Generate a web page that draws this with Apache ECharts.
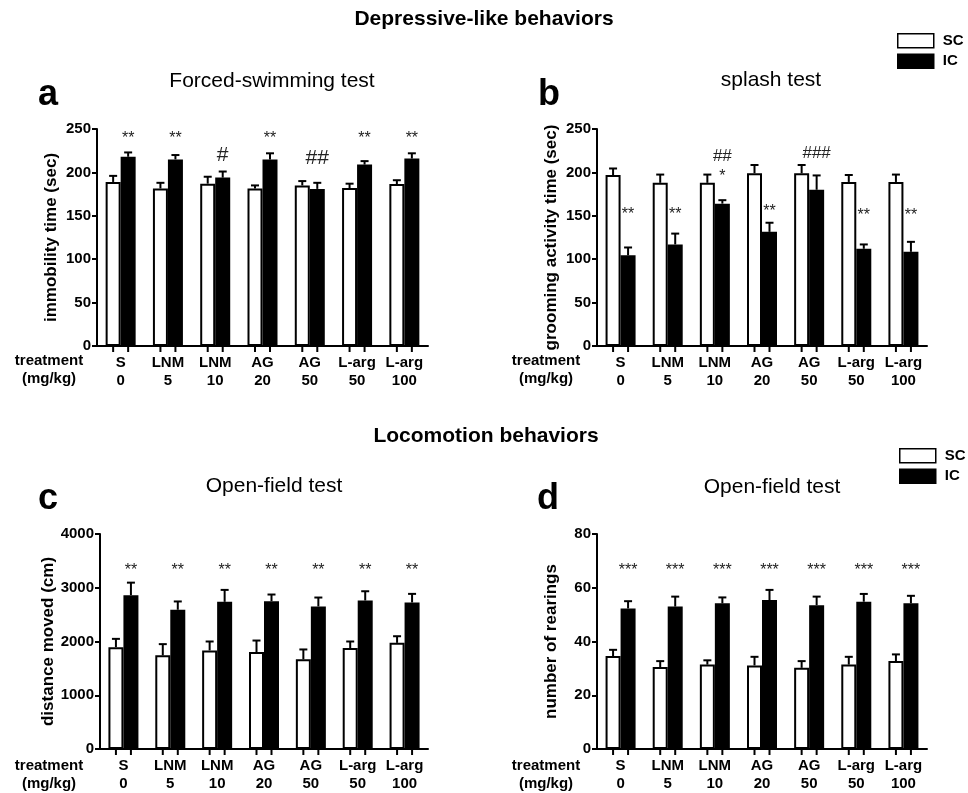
<!DOCTYPE html>
<html>
<head>
<meta charset="utf-8">
<script src="https://cdn.jsdelivr.net/npm/echarts@6/dist/echarts.min.js"></script>
<style>
  html, body { margin: 0; padding: 0; background: #fff; }
  #main { width: 968px; height: 793px; }
</style>
</head>
<body>
<div id="main"></div>
<script>
var categories = ['S\n0', 'LNM\n5', 'LNM\n10', 'AG\n20', 'AG\n50', 'L-arg\n50', 'L-arg\n100'];

// a: forced-swimming test, immobility time (sec)
var immobSC = [189, 181.5, 187, 181.5, 185, 182, 186.5];
var immobSCErr = [7, 6.5, 8, 3.5, 5, 5, 4.5];
var immobIC = [218, 215, 194, 215, 181, 209, 216];
var immobICErr = [5, 5, 7, 7, 7, 4, 6];
var immobMarks = [[0, 244, '**'], [1, 244, '**'], [2, 220, '#'], [3, 244, '**'], [4, 216, '##'], [5, 243, '**'], [6, 244, '**']];

// b: splash test, grooming activity time (sec)
var groomSC = [197, 188, 188, 199, 199, 189, 189];
var groomSCErr = [7.5, 9.5, 9.5, 9.5, 9.5, 8, 8.5];
var groomIC = [104.5, 117, 164, 131.5, 180, 112, 108.5];
var groomICErr = [9, 12.5, 4, 10.5, 16.5, 5, 11.5];
var groomMarks = [[0, 156, '**'], [1, 156, '**'], [2, 218, '##'], [2, 200, '*'], [3, 159, '**'], [4, 222, '###'], [5, 155, '**'], [6, 155, '**']];

// c: open-field, distance moved (cm)
var distSC = [1895, 1742, 1834, 1803, 1668, 1877, 1975];
var distSCErr = [154, 209, 166, 215, 184, 123, 123];
var distIC = [2862, 2591, 2738, 2751, 2652, 2763, 2726];
var distICErr = [233, 154, 222, 123, 166, 172, 160];
var distMarks = [[0, 3400, '**'], [1, 3400, '**'], [2, 3400, '**'], [3, 3400, '**'], [4, 3400, '**'], [5, 3400, '**'], [6, 3400, '**']];

// d: open-field, number of rearings
var rearSC = [34.6, 30.5, 31.4, 31.1, 30.2, 31.4, 32.7];
var rearSCErr = [2.3, 2.2, 1.6, 3.2, 2.5, 2.9, 2.5];
var rearIC = [52.3, 53, 54.2, 55.4, 53.5, 54.8, 54.2];
var rearICErr = [2.7, 3.7, 2.2, 3.8, 3.2, 2.9, 2.8];
var rearMarks = [[0, 68, '***'], [1, 68, '***'], [2, 68, '***'], [3, 68, '***'], [4, 68, '***'], [5, 68, '***'], [6, 68, '***']];

var FONT = '"Liberation Sans", Arial, sans-serif';
var BAR_W = 15;

var chart = echarts.init(document.getElementById('main'));

function errBar(side) {
  return function (params, api) {
    var ci = api.value(0), m = api.value(1), e = api.value(2);
    var p0 = api.coord([ci, m]);
    var p1 = api.coord([ci, m + e]);
    var z = api.coord([ci, 0]);
    var x = p0[0] + side * BAR_W / 2;
    var st = { stroke: '#000', lineWidth: 2 };
    return {
      type: 'group',
      children: [
        { type: 'line', shape: { x1: x, y1: p0[1], x2: x, y2: p1[1] }, style: st },
        { type: 'line', shape: { x1: x - 4, y1: p1[1], x2: x + 4, y2: p1[1] }, style: st },
        { type: 'line', shape: { x1: x, y1: z[1], x2: x, y2: z[1] + 6 }, style: st }
      ]
    };
  };
}

function markItem(marks, hashSize, starSize) {
  return function (params, api) {
    var mk = marks[params.dataIndex];
    var p = api.coord([mk[0], mk[1]]);
    var isHash = mk[2].indexOf('#') >= 0;
    return {
      type: 'text',
      x: p[0] + BAR_W / 2,
      y: p[1] + (isHash ? 0 : 4),
      style: {
        text: mk[2],
        font: (isHash ? hashSize : starSize) + 'px ' + FONT,
        textAlign: 'center',
        textVerticalAlign: 'middle',
        fill: '#222'
      }
    };
  };
}

function panelSeries(k, sc, scErr, ic, icErr, marks, hashSize, starSize) {
  var zip = function (v, e) { return v.map(function (x, i) { return [i, x, e[i]]; }); };
  return [
    { name: 'SC', type: 'bar', xAxisIndex: k, yAxisIndex: k, data: sc, barWidth: BAR_W, barGap: '0%',
      itemStyle: { color: '#fff', borderColor: '#000', borderWidth: 2 } },
    { name: 'IC', type: 'bar', xAxisIndex: k, yAxisIndex: k, data: ic, barWidth: BAR_W, barGap: '0%',
      itemStyle: { color: '#000', borderColor: '#000', borderWidth: 2 } },
    { type: 'custom', xAxisIndex: k, yAxisIndex: k, data: zip(sc, scErr), renderItem: errBar(-1), z: 5 },
    { type: 'custom', xAxisIndex: k, yAxisIndex: k, data: zip(ic, icErr), renderItem: errBar(1), z: 5 },
    { type: 'custom', xAxisIndex: k, yAxisIndex: k, data: marks.map(function (m) { return [m[0], m[1]]; }),
      renderItem: markItem(marks, hashSize, starSize), z: 6 }
  ];
}

var grids = [
  { left: 97, top: 129, width: 331, height: 217 },
  { left: 597, top: 129, width: 330, height: 217 },
  { left: 100, top: 534, width: 328, height: 217 },
  { left: 597, top: 534, width: 330, height: 217 }
];

var yNames = ['immobility time (sec)', 'grooming activity time (sec)', 'distance moved (cm)', 'number of rearings'];
var yMax = [250, 250, 4000, 80];
var yStep = [50, 50, 1000, 20];

var xAxes = grids.map(function (g, k) {
  return {
    type: 'category', gridIndex: k, data: categories,
    axisLine: { lineStyle: { color: '#000', width: 2 } },
    axisTick: { show: false },
    axisLabel: { interval: 0, color: '#000', fontWeight: 'bold', fontSize: 15, lineHeight: 18, margin: 8, fontFamily: FONT }
  };
});

var yAxes = grids.map(function (g, k) {
  return {
    type: 'value', gridIndex: k, min: 0, max: yMax[k], interval: yStep[k],
    name: yNames[k], nameLocation: 'middle', nameGap: k === 2 ? 40 : 37,
    nameTextStyle: { color: '#000', fontWeight: 'bold', fontSize: 17, fontFamily: FONT },
    axisLine: { show: true, lineStyle: { color: '#000', width: 2 } },
    axisTick: { show: true, length: 5, lineStyle: { color: '#000', width: 2 } },
    axisLabel: { color: '#000', fontWeight: 'bold', fontSize: 15, margin: 6, fontFamily: FONT,
      formatter: function (v) { return String(v); } },
    splitLine: { show: false }
  };
});

function txt(text, x, y, font, align, valign) {
  return { type: 'text', x: x, y: y, style: { text: text, font: font, textAlign: align || 'center', textVerticalAlign: valign || 'middle', fill: '#000', lineHeight: 18 } };
}

var legendData = [
  { name: 'SC', itemStyle: { color: '#fff', borderColor: '#000', borderWidth: 1.5 } },
  { name: 'IC', itemStyle: { color: '#000', borderColor: '#000', borderWidth: 1.5 } }
];
var legendText = { color: '#000', fontWeight: 'bold', fontSize: 15, fontFamily: FONT, padding: [0, 0, 0, 4] };

var option = {
  animation: false,
  textStyle: { fontFamily: FONT },
  grid: grids,
  xAxis: xAxes,
  yAxis: yAxes,
  legend: [
    { left: 897, top: 33, orient: 'vertical', padding: 0, itemWidth: 36, itemHeight: 14, itemGap: 5, selectedMode: false, icon: 'rect', data: legendData, textStyle: legendText },
    { left: 899, top: 448, orient: 'vertical', padding: 0, itemWidth: 36, itemHeight: 14, itemGap: 5, selectedMode: false, icon: 'rect', data: legendData, textStyle: legendText }
  ],
  graphic: [
    txt('Depressive-like behaviors', 484, 19, 'bold 21px ' + FONT),
    txt('Locomotion behaviors', 486, 436, 'bold 21px ' + FONT),
    txt('Forced-swimming test', 272, 81, '21px ' + FONT),
    txt('splash test', 771, 80, '21px ' + FONT),
    txt('Open-field test', 274, 486, '21px ' + FONT),
    txt('Open-field test', 772, 487, '21px ' + FONT),
    txt('a', 38, 95, 'bold 36px ' + FONT, 'left'),
    txt('b', 538, 95, 'bold 36px ' + FONT, 'left'),
    txt('c', 38, 499, 'bold 36px ' + FONT, 'left'),
    txt('d', 537, 499, 'bold 36px ' + FONT, 'left'),
    txt('treatment\n(mg/kg)', 49, 352, 'bold 15px ' + FONT, 'center', 'top'),
    txt('treatment\n(mg/kg)', 546, 352, 'bold 15px ' + FONT, 'center', 'top'),
    txt('treatment\n(mg/kg)', 49, 757, 'bold 15px ' + FONT, 'center', 'top'),
    txt('treatment\n(mg/kg)', 546, 757, 'bold 15px ' + FONT, 'center', 'top')
  ],
  series: [].concat(
    panelSeries(0, immobSC, immobSCErr, immobIC, immobICErr, immobMarks, 21, 16),
    panelSeries(1, groomSC, groomSCErr, groomIC, groomICErr, groomMarks, 17, 16),
    panelSeries(2, distSC, distSCErr, distIC, distICErr, distMarks, 17, 16),
    panelSeries(3, rearSC, rearSCErr, rearIC, rearICErr, rearMarks, 17, 16)
  )
};

chart.setOption(option);
</script>
</body>
</html>
